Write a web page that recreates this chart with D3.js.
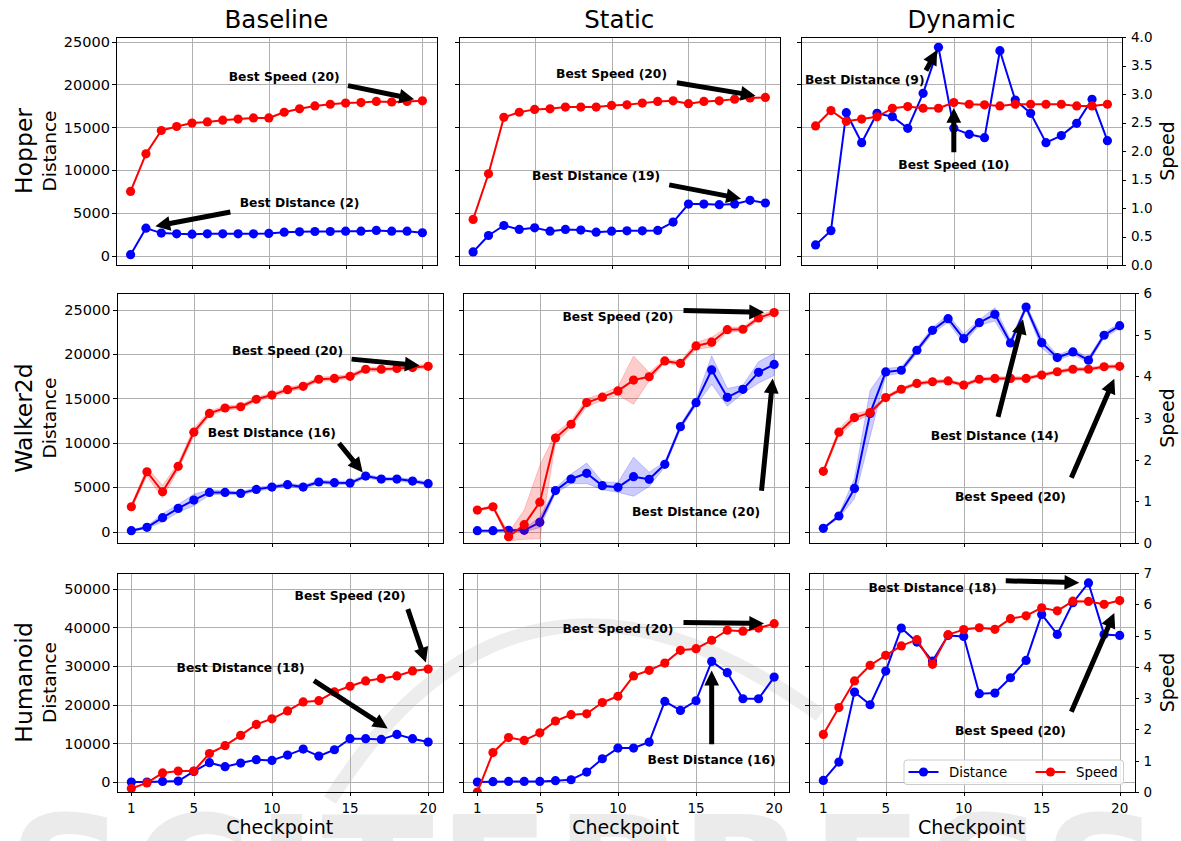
<!DOCTYPE html>
<html>
<head>
<meta charset="utf-8">
<script src="https://cdn.jsdelivr.net/npm/d3@7"></script>
<style>
  body { margin: 0; background: #fff; }
  svg { display: block; }
  text { font-family: "DejaVu Sans", sans-serif; fill: #000; }
</style>
</head>
<body>
<svg id="chart" width="1181" height="841"></svg>
<script>
// ---------------- data ----------------
const checkpoints = d3.range(1, 21);
const robots = ["Hopper", "Walker2d", "Humanoid"];
const methods = ["Baseline", "Static", "Dynamic"];

const hopperBaselineDistance = [150, 3240, 2660, 2580, 2540, 2580, 2580, 2580, 2580, 2620, 2770, 2810, 2850, 2850, 2890, 2890, 2970, 2890, 2890, 2700];
const hopperBaselineSpeed    = [1.29, 1.95, 2.36, 2.43, 2.49, 2.51, 2.54, 2.56, 2.58, 2.58, 2.68, 2.74, 2.79, 2.82, 2.84, 2.85, 2.87, 2.86, 2.87, 2.88];
const hopperStaticDistance   = [470, 2380, 3550, 3090, 3280, 2890, 3090, 3010, 2770, 2890, 2930, 2930, 2970, 3950, 6050, 6050, 5980, 6050, 6480, 6170];
const hopperStaticSpeed      = [0.80, 1.60, 2.59, 2.68, 2.73, 2.74, 2.77, 2.77, 2.77, 2.80, 2.81, 2.84, 2.87, 2.88, 2.83, 2.87, 2.88, 2.91, 2.93, 2.94];
const hopperDynamicDistance  = [1280, 2950, 16700, 13200, 16630, 16240, 14880, 18960, 24320, 14880, 14180, 13790, 23930, 18180, 16630, 13210, 14030, 15460, 18260, 13440];
const hopperDynamicSpeed     = [2.44, 2.71, 2.52, 2.56, 2.60, 2.75, 2.78, 2.75, 2.75, 2.85, 2.82, 2.81, 2.79, 2.82, 2.82, 2.82, 2.82, 2.79, 2.79, 2.82];

const walkerBaselineDistance    = [110, 490, 1570, 2620, 3560, 4420, 4420, 4310, 4760, 5020, 5290, 5020, 5590, 5510, 5470, 6260, 5920, 5920, 5700, 5400];
const walkerBaselineDistanceStd = [100, 150, 450, 450, 650, 280, 200, 200, 200, 200, 200, 200, 200, 200, 200, 200, 200, 200, 200, 200];
const walkerBaselineSpeed       = [0.87, 1.71, 1.23, 1.84, 2.66, 3.11, 3.24, 3.27, 3.45, 3.55, 3.68, 3.76, 3.93, 3.95, 4.00, 4.17, 4.17, 4.19, 4.21, 4.24];
const walkerBaselineSpeedStd    = [0.05, 0.10, 0.15, 0.08, 0.10, 0.06, 0.05, 0.05, 0.05, 0.05, 0.05, 0.05, 0.05, 0.05, 0.05, 0.05, 0.05, 0.05, 0.05, 0.05];
const walkerStaticDistance      = [110, 110, 150, 150, 1050, 4620, 5930, 6570, 5180, 4990, 6190, 5890, 7580, 11820, 14530, 18210, 15130, 16030, 17940, 18840];
const walkerStaticDistanceStd   = [50, 50, 100, 150, 600, 300, 550, 1150, 450, 550, 2200, 800, 300, 300, 300, 1600, 1000, 450, 1200, 1250];
const walkerStaticSpeed         = [0.79, 0.87, 0.15, 0.44, 0.98, 2.52, 2.85, 3.37, 3.50, 3.65, 3.91, 3.99, 4.37, 4.31, 4.73, 4.82, 5.12, 5.13, 5.40, 5.53];
const walkerStaticSpeedStd      = [0.03, 0.03, 0.10, 0.35, 0.88, 0.12, 0.08, 0.10, 0.08, 0.10, 0.58, 0.10, 0.04, 0.06, 0.08, 0.12, 0.06, 0.05, 0.06, 0.06];
const walkerDynamicDistance     = [375, 1760, 4870, 13310, 17990, 18180, 20430, 22680, 23990, 21740, 23540, 24480, 21250, 25300, 21290, 19610, 20240, 19310, 22120, 23200];
const walkerDynamicDistanceStd  = [100, 200, 1150, 2600, 400, 350, 300, 350, 400, 550, 300, 750, 400, 300, 600, 300, 300, 300, 300, 300];
const walkerDynamicSpeed        = [1.72, 2.66, 3.01, 3.13, 3.49, 3.69, 3.83, 3.87, 3.89, 3.79, 3.93, 3.95, 3.95, 3.95, 4.03, 4.11, 4.17, 4.17, 4.23, 4.24];
const walkerDynamicSpeedStd     = [0.04, 0.08, 0.10, 0.05, 0.04, 0.04, 0.04, 0.04, 0.04, 0.04, 0.04, 0.04, 0.04, 0.04, 0.04, 0.04, 0.04, 0.04, 0.04, 0.04];

const humanoidBaselineDistance = [0, 0, 170, 260, 2760, 5000, 3970, 4910, 5780, 5600, 6980, 8530, 6720, 8360, 11210, 11210, 11030, 12330, 11210, 10350];
const humanoidBaselineSpeed    = [0.11, 0.29, 0.61, 0.67, 0.67, 1.23, 1.48, 1.81, 2.16, 2.34, 2.59, 2.88, 2.92, 3.20, 3.38, 3.55, 3.63, 3.71, 3.87, 3.93];
const humanoidStaticDistance   = [0, 90, 170, 170, 170, 350, 600, 2590, 6030, 8790, 8790, 10350, 20860, 18530, 21030, 31210, 28280, 21550, 21550, 27160];
const humanoidStaticSpeed      = [0.00, 1.26, 1.74, 1.65, 1.89, 2.27, 2.47, 2.50, 2.86, 3.06, 3.71, 3.89, 4.12, 4.53, 4.58, 4.85, 5.17, 5.14, 5.24, 5.38];
const humanoidDynamicDistance  = [430, 5170, 23280, 20000, 28710, 39830, 36210, 31290, 37930, 37670, 22850, 23020, 26980, 31470, 43360, 38190, 46380, 51500, 38190, 37930];
const humanoidDynamicSpeed     = [1.84, 2.70, 3.55, 4.05, 4.37, 4.67, 4.87, 4.08, 5.03, 5.19, 5.25, 5.20, 5.54, 5.63, 5.89, 5.79, 6.10, 6.09, 6.00, 6.12];

// axis ticks per row
const speedLimits   = [4, 6, 7];
const speedTicks    = [[0, 0.5, 1, 1.5, 2, 2.5, 3, 3.5, 4], [0, 1, 2, 3, 4, 5, 6], [0, 1, 2, 3, 4, 5, 6, 7]];
const distanceTicks = [[0, 5000, 10000, 15000, 20000, 25000], [0, 5000, 10000, 15000, 20000, 25000], [0, 10000, 20000, 30000, 40000, 50000]];
const xTicksInner   = [5, 10, 15, 20];
const xTicksBottom  = [1, 5, 10, 15, 20];

// "best" notes: which point each one points at, and where its label sits (data coords)
const annotations = [
  { row: 0, col: 0, series: "speed",    at: 20, label: "Best Speed (20)",    tx: 11,  ty: 3.3 },
  { row: 0, col: 0, series: "distance", at: 2,  label: "Best Distance (2)",  tx: 12,  ty: 6150 },
  { row: 0, col: 1, series: "speed",    at: 20, label: "Best Speed (20)",    tx: 10,  ty: 3.35 },
  { row: 0, col: 1, series: "distance", at: 19, label: "Best Distance (19)", tx: 9,   ty: 9300 },
  { row: 0, col: 2, series: "distance", at: 9,  label: "Best Distance (9)",  tx: 4.2, ty: 20500 },
  { row: 0, col: 2, series: "speed",    at: 10, label: "Best Speed (10)",    tx: 10,  ty: 1.76 },
  { row: 1, col: 0, series: "speed",    at: 20, label: "Best Speed (20)",    tx: 11,  ty: 4.6 },
  { row: 1, col: 0, series: "distance", at: 16, label: "Best Distance (16)", tx: 10,  ty: 11150 },
  { row: 1, col: 1, series: "speed",    at: 20, label: "Best Speed (20)",    tx: 10,  ty: 5.42 },
  { row: 1, col: 1, series: "distance", at: 20, label: "Best Distance (20)", tx: 15,  ty: 2250 },
  { row: 1, col: 2, series: "distance", at: 14, label: "Best Distance (14)", tx: 12,  ty: 10750 },
  { row: 1, col: 2, series: "speed",    at: 20, label: "Best Speed (20)",    tx: 13,  ty: 1.1 },
  { row: 2, col: 0, series: "speed",    at: 20, label: "Best Speed (20)",    tx: 15,  ty: 6.28 },
  { row: 2, col: 0, series: "distance", at: 18, label: "Best Distance (18)", tx: 8,   ty: 29600 },
  { row: 2, col: 1, series: "speed",    at: 20, label: "Best Speed (20)",    tx: 10,  ty: 5.2 },
  { row: 2, col: 1, series: "distance", at: 16, label: "Best Distance (16)", tx: 16,  ty: 5600 },
  { row: 2, col: 2, series: "distance", at: 18, label: "Best Distance (18)", tx: 8,   ty: 50300 },
  { row: 2, col: 2, series: "speed",    at: 20, label: "Best Speed (20)",    tx: 13,  ty: 1.95 }
];

// table assembled from the arrays above
const series = {
  Hopper: {
    Baseline: { distance: hopperBaselineDistance, speed: hopperBaselineSpeed },
    Static:   { distance: hopperStaticDistance,   speed: hopperStaticSpeed },
    Dynamic:  { distance: hopperDynamicDistance,  speed: hopperDynamicSpeed }
  },
  Walker2d: {
    Baseline: { distance: walkerBaselineDistance, distanceStd: walkerBaselineDistanceStd, speed: walkerBaselineSpeed, speedStd: walkerBaselineSpeedStd },
    Static:   { distance: walkerStaticDistance,   distanceStd: walkerStaticDistanceStd,   speed: walkerStaticSpeed,   speedStd: walkerStaticSpeedStd },
    Dynamic:  { distance: walkerDynamicDistance,  distanceStd: walkerDynamicDistanceStd,  speed: walkerDynamicSpeed,  speedStd: walkerDynamicSpeedStd }
  },
  Humanoid: {
    Baseline: { distance: humanoidBaselineDistance, speed: humanoidBaselineSpeed },
    Static:   { distance: humanoidStaticDistance,   speed: humanoidStaticSpeed },
    Dynamic:  { distance: humanoidDynamicDistance,  speed: humanoidDynamicSpeed }
  }
};

// ---------------- layout ----------------
const rowBoxes = [
  { top: 37,  bottom: 265, cols: [[116, 437], [458.5, 780], [801, 1122]] },
  { top: 293, bottom: 543, cols: [[116.5, 443], [462.5, 789], [808.5, 1134.5]] },
  { top: 573, bottom: 792, cols: [[116.5, 443], [462.5, 789], [808.5, 1134.5]] }
];
const BLUE = "#0000ff", RED = "#ff0000";
const LINE_W = 2, MARK_R = 4.6, TICK = 4;
const SPEED_LABEL_X = 1174;
const crisp = v => Math.round(v) + 0.5;

const svg = d3.select("#chart");

// faint publisher watermark behind the plots
const wm = svg.append("g").attr("class", "watermark");
wm.append("path")
  .attr("d", "M330,800 Q520,500 820,715")
  .attr("fill", "none").attr("stroke", "#ededed").attr("stroke-width", 14);
wm.append("text")
  .attr("x", 8).attr("y", 935)
  .attr("font-size", 165).attr("font-weight", "bold")
  .attr("letter-spacing", 4)
  .style("fill", "#ebebeb")
  .text("SCITEPRESS");

const panels = [];

robots.forEach((robot, r) => {
  const box = rowBoxes[r];

  // shared distance range across the row, 5% margin like matplotlib autoscale
  let lo = Infinity, hi = -Infinity;
  methods.forEach(m => {
    const s = series[robot][m];
    s.distance.forEach((v, i) => {
      const e = s.distanceStd ? s.distanceStd[i] : 0;
      lo = Math.min(lo, v - e); hi = Math.max(hi, v + e);
    });
  });
  const pad = (hi - lo) * 0.05;
  const distDomain = [lo - pad, hi + pad];

  methods.forEach((method, c) => {
    const [x0, x1] = box.cols[c];
    const x  = d3.scaleLinear().domain([0.05, 20.95]).range([x0, x1]);
    const yD = d3.scaleLinear().domain(distDomain).range([box.bottom, box.top]);
    const yS = d3.scaleLinear().domain([0, speedLimits[r]]).range([box.bottom, box.top]);
    const s = series[robot][method];
    panels.push({ r, c, x, yD, yS, s, box, x0, x1 });

    const g = svg.append("g").attr("class", `panel ${robot}-${method}`);
    const clipId = `clip-${r}-${c}`;
    g.append("clipPath").attr("id", clipId)
      .append("rect").attr("x", x0).attr("y", box.top)
      .attr("width", x1 - x0).attr("height", box.bottom - box.top);

    const xTicks = r === 2 ? xTicksBottom : xTicksInner;

    // grid
    const grid = g.append("g").attr("stroke", "#b0b0b0").attr("stroke-width", 1).attr("shape-rendering", "crispEdges");
    grid.selectAll("line.v").data(xTicks).join("line").attr("class", "v")
      .attr("x1", d => crisp(x(d))).attr("x2", d => crisp(x(d)))
      .attr("y1", box.top).attr("y2", box.bottom);
    grid.selectAll("line.h").data(distanceTicks[r]).join("line").attr("class", "h")
      .attr("y1", d => crisp(yD(d))).attr("y2", d => crisp(yD(d)))
      .attr("x1", x0).attr("x2", x1);

    const plot = g.append("g").attr("clip-path", `url(#${clipId})`);
    drawSeries(plot, s.distance, s.distanceStd, x, yD, BLUE);
    drawSeries(plot, s.speed, s.speedStd, x, yS, RED);

    // frame
    g.append("rect").attr("x", crisp(x0)).attr("y", crisp(box.top))
      .attr("width", Math.round(x1) - Math.round(x0)).attr("height", Math.round(box.bottom) - Math.round(box.top))
      .attr("fill", "none").attr("stroke", "#000").attr("stroke-width", 1).attr("shape-rendering", "crispEdges");

    // tick marks on every panel; labels only on the outer edges
    const ticks = g.append("g").attr("stroke", "#000").attr("stroke-width", 1).attr("shape-rendering", "crispEdges");
    ticks.selectAll("line.l").data(distanceTicks[r]).join("line").attr("class", "l")
      .attr("x1", Math.round(x0) - TICK).attr("x2", Math.round(x0))
      .attr("y1", d => crisp(yD(d))).attr("y2", d => crisp(yD(d)));
    ticks.selectAll("line.b").data(xTicks).join("line").attr("class", "b")
      .attr("x1", d => crisp(x(d))).attr("x2", d => crisp(x(d)))
      .attr("y1", Math.round(box.bottom)).attr("y2", Math.round(box.bottom) + TICK);

    if (c === 0) {
      g.selectAll("text.yl").data(distanceTicks[r]).join("text").attr("class", "yl")
        .attr("x", x0 - 6).attr("y", d => yD(d)).attr("dy", "0.36em")
        .attr("text-anchor", "end").attr("font-size", 14.5)
        .text(d => d);
    }
    if (c === 2) {
      ticks.selectAll("line.r").data(speedTicks[r]).join("line").attr("class", "r")
        .attr("x1", Math.round(x1)).attr("x2", Math.round(x1) + TICK)
        .attr("y1", d => crisp(yS(d))).attr("y2", d => crisp(yS(d)));
      const fmt = r === 0 ? d3.format(".1f") : d3.format("d");
      g.selectAll("text.yr").data(speedTicks[r]).join("text").attr("class", "yr")
        .attr("x", x1 + 9).attr("y", d => yS(d)).attr("dy", "0.36em")
        .attr("text-anchor", "start").attr("font-size", 13.5)
        .text(d => fmt(d));
      g.append("text")
        .attr("transform", `translate(${SPEED_LABEL_X},${(box.top + box.bottom) / 2}) rotate(-90)`)
        .attr("text-anchor", "middle").attr("font-size", 19)
        .text("Speed");
    }
    if (r === 2) {
      g.selectAll("text.xl").data(xTicks).join("text").attr("class", "xl")
        .attr("x", d => x(d)).attr("y", box.bottom + 21)
        .attr("text-anchor", "middle").attr("font-size", 13.5)
        .text(d => d);
      g.append("text")
        .attr("x", (x0 + x1) / 2).attr("y", 834)
        .attr("text-anchor", "middle").attr("font-size", 19)
        .text("Checkpoint");
    }
    if (r === 0) {
      g.append("text")
        .attr("x", (x0 + x1) / 2).attr("y", 27.5)
        .attr("text-anchor", "middle").attr("font-size", 24.5)
        .text(method);
    }
    if (c === 0) {
      const cy = (box.top + box.bottom) / 2;
      g.append("text")
        .attr("transform", `translate(32,${cy}) rotate(-90)`)
        .attr("text-anchor", "middle").attr("font-size", 23.5)
        .text(robot);
      g.append("text")
        .attr("transform", `translate(55.5,${cy}) rotate(-90)`)
        .attr("text-anchor", "middle").attr("font-size", 18.5)
        .text("Distance");
    }
  });
});

function drawSeries(parent, values, std, x, y, color) {
  const pts = values.map((v, i) => ({ c: checkpoints[i], v, e: std ? std[i] : 0 }));
  if (std) {
    parent.append("path").datum(pts)
      .attr("d", d3.area().x(d => x(d.c)).y0(d => y(d.v - d.e)).y1(d => y(d.v + d.e)))
      .attr("fill", color).attr("fill-opacity", 0.2).attr("stroke", color).attr("stroke-opacity", 0.2).attr("stroke-width", 1);
  }
  parent.append("path").datum(pts)
    .attr("d", d3.line().x(d => x(d.c)).y(d => y(d.v)))
    .attr("fill", "none").attr("stroke", color).attr("stroke-width", LINE_W).attr("stroke-linejoin", "round");
  parent.selectAll(null).data(pts).join("circle")
    .attr("cx", d => x(d.c)).attr("cy", d => y(d.v)).attr("r", MARK_R)
    .attr("fill", color);
}

// notes with block arrows: tail at the label box point nearest the target, both ends pulled back
const notes = svg.append("g").attr("class", "annotations");
annotations.forEach(a => {
  const p = panels.find(q => q.r === a.row && q.c === a.col);
  const y = a.series === "speed" ? p.yS : p.yD;
  const vals = a.series === "speed" ? p.s.speed : p.s.distance;
  const px = p.x(a.at), py = y(vals[a.at - 1]);
  const t = notes.append("text")
    .attr("x", p.x(a.tx)).attr("y", y(a.ty))
    .attr("dominant-baseline", "central").attr("text-anchor", "middle")
    .attr("font-size", 12.3).attr("font-weight", "bold")
    .text(a.label);
  const bb = t.node().getBBox();
  const xs = [bb.x, bb.x + bb.width / 2, bb.x + bb.width];
  const ys = [bb.y, bb.y + bb.height / 2, bb.y + bb.height];
  const tx = xs.reduce((m, v) => Math.abs(v - px) < Math.abs(m - px) ? v : m);
  const ty = ys.reduce((m, v) => Math.abs(v - py) < Math.abs(m - py) ? v : m);
  const dx = px - tx, dy = py - ty, len = Math.hypot(dx, dy);
  const ux = dx / len, uy = dy / len, nx = -uy, ny = ux;
  const shrink = 0.1 * len;
  const sx = tx + ux * shrink, sy = ty + uy * shrink;
  const ex = px - ux * shrink, ey = py - uy * shrink;
  const w = 2.5, hw = 7.4, hl = Math.min(14.8, Math.hypot(ex - sx, ey - sy));
  const bx = ex - ux * hl, by = ey - uy * hl;
  const poly = [
    [sx + nx * w, sy + ny * w], [bx + nx * w, by + ny * w], [bx + nx * hw, by + ny * hw],
    [ex, ey],
    [bx - nx * hw, by - ny * hw], [bx - nx * w, by - ny * w], [sx - nx * w, sy - ny * w]
  ];
  notes.append("path").attr("d", "M" + poly.map(q => q.join(",")).join("L") + "Z").attr("fill", "#000");
});

// legend in the bottom-right panel
const lp = panels.find(q => q.r === 2 && q.c === 2);
const lg = svg.append("g").attr("class", "legend");
const lx = lp.x1 - 230.5, ly = lp.box.bottom - 32;
lg.append("rect").attr("x", lx).attr("y", ly).attr("width", 219.5).attr("height", 24.5).attr("rx", 3)
  .attr("fill", "#fff").attr("fill-opacity", 0.8).attr("stroke", "#cccccc").attr("stroke-width", 1);
[["Distance", BLUE, 0], ["Speed", RED, 127]].forEach(([name, color, off]) => {
  const cy = ly + 12;
  lg.append("line").attr("x1", lx + 4.5 + off).attr("x2", lx + 34.5 + off).attr("y1", cy).attr("y2", cy)
    .attr("stroke", color).attr("stroke-width", LINE_W);
  lg.append("circle").attr("cx", lx + 19.5 + off).attr("cy", cy).attr("r", MARK_R).attr("fill", color);
  lg.append("text").attr("x", lx + 45 + off).attr("y", cy).attr("dy", "0.36em").attr("font-size", 13.3).text(name);
});
</script>
</body>
</html>
